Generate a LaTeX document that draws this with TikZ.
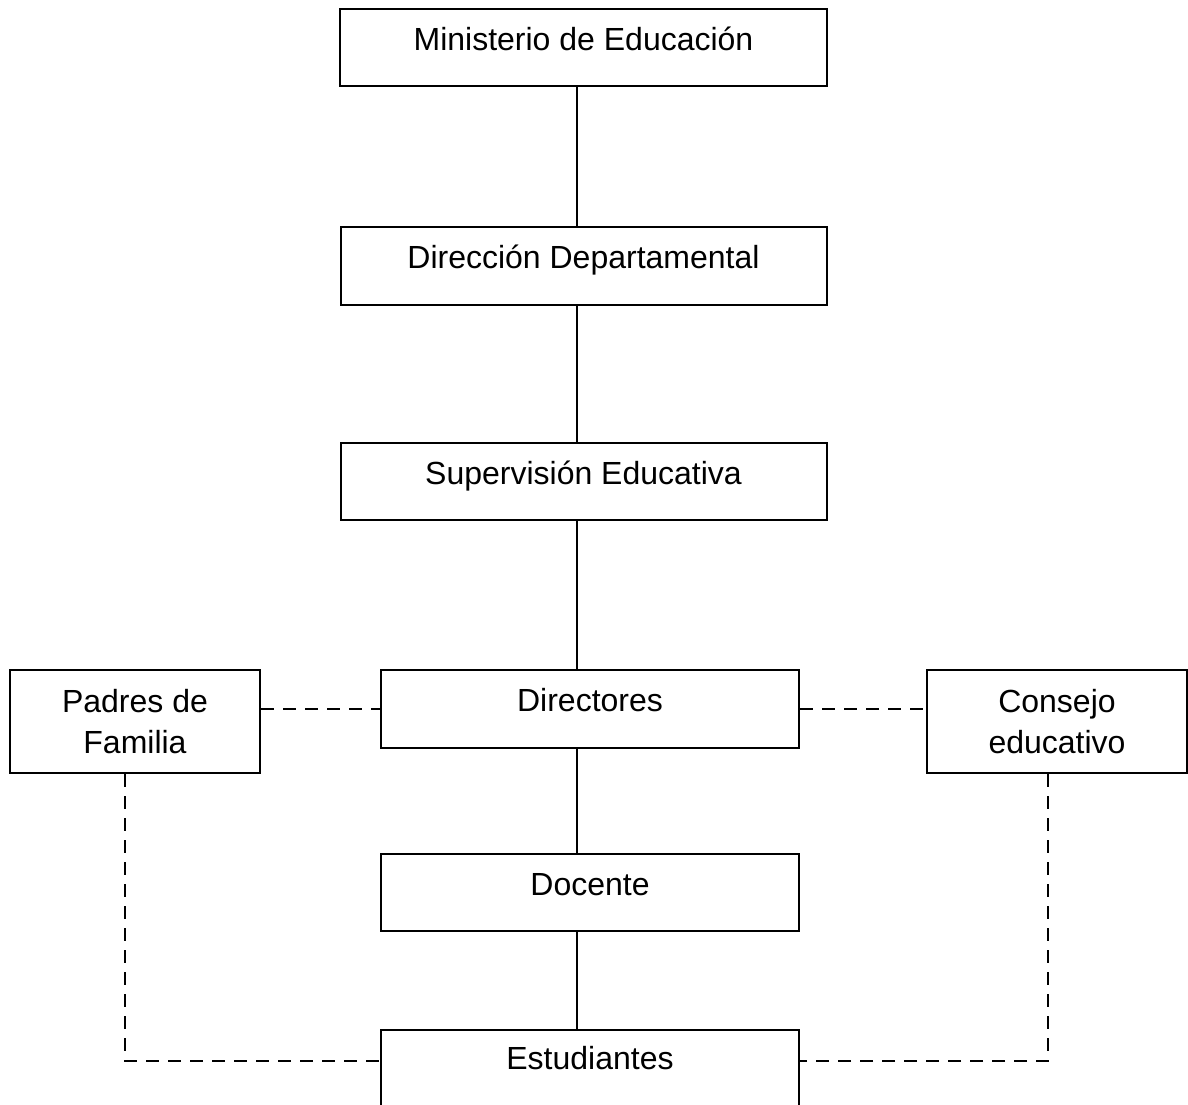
\documentclass[tikz,border=0pt]{standalone}
\usepackage{fontspec}
\setmainfont{Liberation Sans}
\begin{document}
\begin{tikzpicture}[x=1pt,y=-1pt,
  box/.style={draw,line width=2pt,rectangle,inner sep=0pt,align=center,
    font=\fontsize{32}{41}\selectfont},
  onebox/.style={box,text height=41pt,text depth=#1},
  twobox/.style={box,text height=42pt,text depth=61pt},
  solidline/.style={line width=2pt},
  dashline/.style={line width=2pt,dash pattern=on 13pt off 9pt}]
\useasboundingbox (0,0) rectangle (1188,1104);
\clip (0,0) rectangle (1188,1104);
\coordinate (spine) at (577,0);
\coordinate (pl) at (125,1061);
\coordinate (pr) at (1048,1061);
\node[onebox=36pt,minimum width=487pt] (min) at (583.5,47.5) {Ministerio de Educación};
\node[onebox=37pt,minimum width=486pt] (dir) at (583.5,266) {Dirección Departamental};
\node[onebox=36pt,minimum width=486pt] (sup) at (583.5,481.5) {Supervisión Educativa};
\node[onebox=37pt,minimum width=418pt] (dirs) at (590,709) {Directores};
\node[onebox=36pt,minimum width=418pt] (doc) at (590,892.5) {Docente};
\node[box,text height=39pt,text depth=39pt,minimum width=418pt] (est) at (590,1069) {Estudiantes};
\node[twobox,minimum width=250pt] (pad) at (135,721.5) {\begin{tabular}[t]{@{}c@{}}Padres de\\Familia\end{tabular}};
\node[twobox,minimum width=260pt] (con) at (1057,721.5) {\begin{tabular}[t]{@{}c@{}}Consejo\\educativo\end{tabular}};
\draw[solidline] (min.south -| spine) -- (dir.north -| spine);
\draw[solidline] (dir.south -| spine) -- (sup.north -| spine);
\draw[solidline] (sup.south -| spine) -- (dirs.north -| spine);
\draw[solidline] (dirs.south -| spine) -- (doc.north -| spine);
\draw[solidline] (doc.south -| spine) -- (est.north -| spine);
\draw[dashline] (pad.east |- dirs.west) -- (dirs.west);
\draw[dashline] (dirs.east) -- (con.west |- dirs.east);
\draw[dashline] (pad.south -| pl) -- (pl) -- (est.west |- pl);
\draw[dashline] (con.south -| pr) -- (pr) -- (est.east |- pr);
\end{tikzpicture}
\end{document}
